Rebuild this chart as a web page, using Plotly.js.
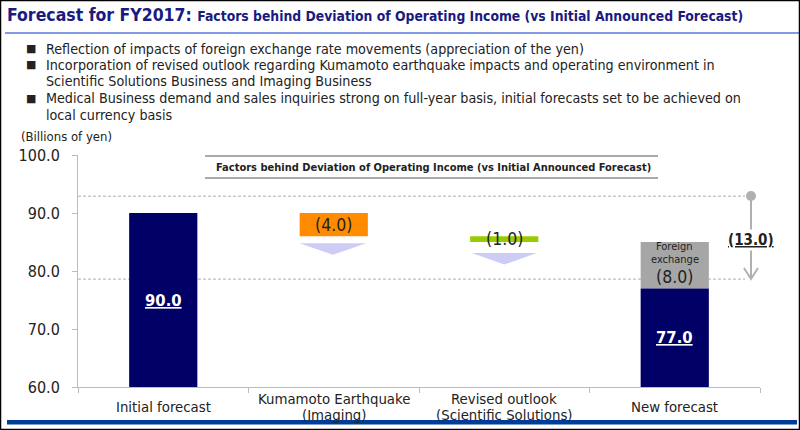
<!DOCTYPE html>
<html>
<head>
<meta charset="utf-8">
<script src="https://cdn.plot.ly/plotly-3.0.1.min.js"></script>
<style>
html,body{margin:0;padding:0;background:#fff;}
#chart{width:800px;height:430px;}
</style>
</head>
<body>
<div id="chart"></div>
<script>
// ---- data ----
const categories = ['Initial forecast', 'Kumamoto Earthquake<br>(Imaging)', 'Revised outlook<br>(Scientific Solutions)', 'New forecast'];
const initialForecast = 90.0;
const kumamotoImpact = -4.0;
const revisedOutlookImpact = -1.0;
const fxImpact = -8.0;
const newForecast = 77.0;
const totalDeviation = -13.0;
const yTickVals = [60, 70, 80, 90, 100];
const bulletLines = [
  ['Reflection of impacts of foreign exchange rate movements (appreciation of the yen)'],
  ['Incorporation of revised outlook regarding Kumamoto earthquake impacts and operating environment in', 'Scientific Solutions Business and Imaging Business'],
  ['Medical Business demand and sales inquiries strong on full-year basis, initial forecasts set to be achieved on', 'local currency basis']
];

// ---- derived ----
const kTop = initialForecast, kBase = kTop + kumamotoImpact;
const rTop = kBase, rBase = rTop + revisedOutlookImpact;
const fxTop = rBase, fxBase = fxTop + fxImpact;
const fmt = v => '(' + Math.abs(v).toFixed(1) + ')';

// ---- layout helpers (pixel -> paper) ----
const L = 78, T = 155, W = 682, H = 232;
const px = x => (x - L) / W;
const py = y => (T + H - y) / H;

const FONT = 'DejaVu Sans Condensed, DejaVu Sans, Verdana, sans-serif';
const NAVY = '#000066';

const traces = [
  {type:'bar', x:[categories[0]], y:[initialForecast], marker:{color:NAVY}, width:0.4, hoverinfo:'skip'},
  {type:'bar', x:[categories[1]], y:[-kumamotoImpact], base:[kBase], marker:{color:'#ff8c00'}, width:0.4, hoverinfo:'skip'},
  {type:'bar', x:[categories[2]], y:[-revisedOutlookImpact], base:[rBase], marker:{color:'#99cc00'}, width:0.4, hoverinfo:'skip'},
  {type:'bar', x:[categories[3]], y:[-fxImpact], base:[fxBase], marker:{color:'#a6a6a6'}, width:0.4, hoverinfo:'skip'},
  {type:'bar', x:[categories[3]], y:[newForecast], marker:{color:NAVY}, width:0.4, hoverinfo:'skip'}
];

const dashTop = 92.9, dashBottom = 78.6;
const arrowX = px(751);

const shapes = [
  {type:'line', xref:'paper', yref:'y', x0:0, x1:px(745), y0:dashTop, y1:dashTop, line:{color:'#b0b0b0', width:1, dash:'3px,2px'}, layer:'below'},
  {type:'line', xref:'paper', yref:'y', x0:0, x1:px(745), y0:dashBottom, y1:dashBottom, line:{color:'#b0b0b0', width:1, dash:'3px,2px'}, layer:'below'},
  {type:'path', xref:'x', yref:'y', path:'M 0.8 84.8 L 1.19 84.8 L 0.995 82.8 Z', fillcolor:'#ccccf5', line:{width:0}},
  {type:'path', xref:'x', yref:'y', path:'M 1.81 83.1 L 2.19 83.1 L 2.0 81.1 Z', fillcolor:'#ccccf5', line:{width:0}},
  {type:'line', xref:'paper', yref:'y', x0:arrowX, x1:arrowX, y0:dashTop, y1:dashBottom, line:{color:'#b0b0b0', width:2}},
  {type:'path', xref:'paper', yref:'paper', path:'M '+px(744)+' '+py(268)+' L '+arrowX+' '+py(279)+' L '+px(758)+' '+py(268), line:{color:'#b0b0b0', width:2}},
  {type:'circle', xref:'paper', yref:'paper', x0:px(746), x1:px(756), y0:py(191), y1:py(201), fillcolor:'#b0b0b0', line:{width:0}},
  {type:'line', xref:'paper', yref:'paper', x0:px(205), x1:px(658), y0:py(156), y1:py(156), line:{color:'#aaaaaa', width:2}},
  {type:'line', xref:'paper', yref:'paper', x0:px(205), x1:px(658), y0:py(178), y1:py(178), line:{color:'#aaaaaa', width:2}},
  {type:'line', xref:'paper', yref:'paper', x0:px(5), x1:px(800), y0:py(33), y1:py(33), line:{color:'#5a78d8', width:1.5}},
  {type:'rect', xref:'paper', yref:'paper', x0:px(7), x1:px(797), y0:py(420), y1:py(424.5), fillcolor:'#003d99', line:{width:0}},
  {type:'rect', xref:'paper', yref:'paper', x0:px(0.5), x1:px(799.5), y0:py(0.5), y1:py(429.5), line:{color:'#000', width:1.5}}
];

const annotations = [
  {xref:'paper', yref:'paper', x:px(5), y:py(15), xanchor:'left', yanchor:'middle', showarrow:false,
   text:'<b>Forecast for FY2017: <span style="font-size:13.8px">Factors behind Deviation of Operating Income (vs Initial Announced Forecast)</span></b>',
   font:{family:FONT, size:17.5, color:'#1a1a80'}},
  {xref:'paper', yref:'paper', x:px(19), y:py(137), xanchor:'left', yanchor:'middle', showarrow:false,
   text:'(Billions of yen)', font:{family:FONT, size:13, color:'#222'}},
  {xref:'paper', yref:'paper', x:px(433), y:py(167), xanchor:'center', yanchor:'middle', showarrow:false,
   text:'<b>Factors behind Deviation of Operating Income (vs Initial Announced Forecast)</b>', font:{family:FONT, size:11, color:'#222'}},
  {x:categories[0], y:(60 + initialForecast)/2, showarrow:false, text:'<b><u>'+initialForecast.toFixed(1)+'</u></b>', font:{family:FONT, size:16.5, color:'#fff'}},
  {x:categories[3], y:(60 + newForecast)/2, showarrow:false, text:'<b><u>'+newForecast.toFixed(1)+'</u></b>', font:{family:FONT, size:16.5, color:'#fff'}},
  {x:categories[1], y:(kTop + kBase)/2, showarrow:false, text:fmt(kumamotoImpact), font:{family:FONT, size:17.5, color:'#222'}},
  {x:categories[2], y:(rTop + rBase)/2, showarrow:false, text:fmt(revisedOutlookImpact), font:{family:FONT, size:17.5, color:'#222'}},
  {xref:'x', yref:'paper', x:3, y:py(246.7), yanchor:'middle', xanchor:'center', showarrow:false, borderpad:0, text:'Foreign', font:{family:FONT, size:11, color:'#222'}},
  {xref:'x', yref:'paper', x:3, y:py(259.5), yanchor:'middle', xanchor:'center', showarrow:false, borderpad:0, text:'exchange', font:{family:FONT, size:11, color:'#222'}},
  {xref:'x', yref:'paper', x:3, y:py(277), yanchor:'middle', xanchor:'center', showarrow:false, borderpad:0, text:fmt(fxImpact), font:{family:FONT, size:17.5, color:'#222'}},
  {xref:'paper', yref:'paper', x:arrowX, y:py(240), xanchor:'center', yanchor:'middle', showarrow:false, text:'<b><u>'+fmt(totalDeviation)+'</u></b>', bgcolor:'#fff', font:{family:FONT, size:15, color:'#222'}}
];

// category labels below axis (vertically centred like the reference)
categories.forEach((c, i) => {
  const parts = c.split('<br>');
  const centre = 406, step = 16;
  parts.forEach((p, j) => {
    annotations.push({xref:'x', yref:'paper', x:i, y:py(centre + (j - (parts.length - 1)/2) * step), xanchor:'center', yanchor:'middle',
      showarrow:false, borderpad:0, text:p, font:{family:FONT, size:14.8, color:'#222'}});
  });
});

// bullets
const lineY = [[48.5], [65, 81.5], [98, 114.5]];
bulletLines.forEach((lines, i) => {
  annotations.push({xref:'paper', yref:'paper', x:px(24), y:py(lineY[i][0]), xanchor:'left', yanchor:'middle', showarrow:false,
    text:'■', font:{family:'DejaVu Sans', size:11, color:'#222'}});
  lines.forEach((t, j) => {
    annotations.push({xref:'paper', yref:'paper', x:px(45), y:py(lineY[i][j]), xanchor:'left', yanchor:'middle', showarrow:false,
      borderpad:0, text:t, font:{family:FONT, size:14.2, color:'#222'}});
  });
});

const layout = {
  width:800, height:430,
  margin:{l:L, r:800 - L - W, t:T, b:430 - T - H, pad:0},
  paper_bgcolor:'#fff', plot_bgcolor:'#fff',
  showlegend:false,
  barmode:'overlay',
  xaxis:{type:'category', categoryorder:'array', categoryarray:categories, range:[-0.5, 3.5],
    showline:true, linecolor:'#bbbbbb', linewidth:1, ticks:'outside', tickson:'boundaries', ticklen:5, tickcolor:'#bbbbbb',
    showgrid:false, zeroline:false, fixedrange:true, showticklabels:false},
  yaxis:{range:[60, 100], tickvals:yTickVals, tickformat:'.1f',
    showline:true, linecolor:'#bbbbbb', linewidth:1, ticks:'outside', ticklen:5, tickcolor:'#bbbbbb',
    ticklabelstandoff:9,
    showgrid:false, zeroline:false, fixedrange:true,
    tickfont:{family:FONT, size:16, color:'#222'}},
  shapes:shapes,
  annotations:annotations
};

Plotly.newPlot('chart', traces, layout, {displayModeBar:false, staticPlot:true});
</script>
</body>
</html>
